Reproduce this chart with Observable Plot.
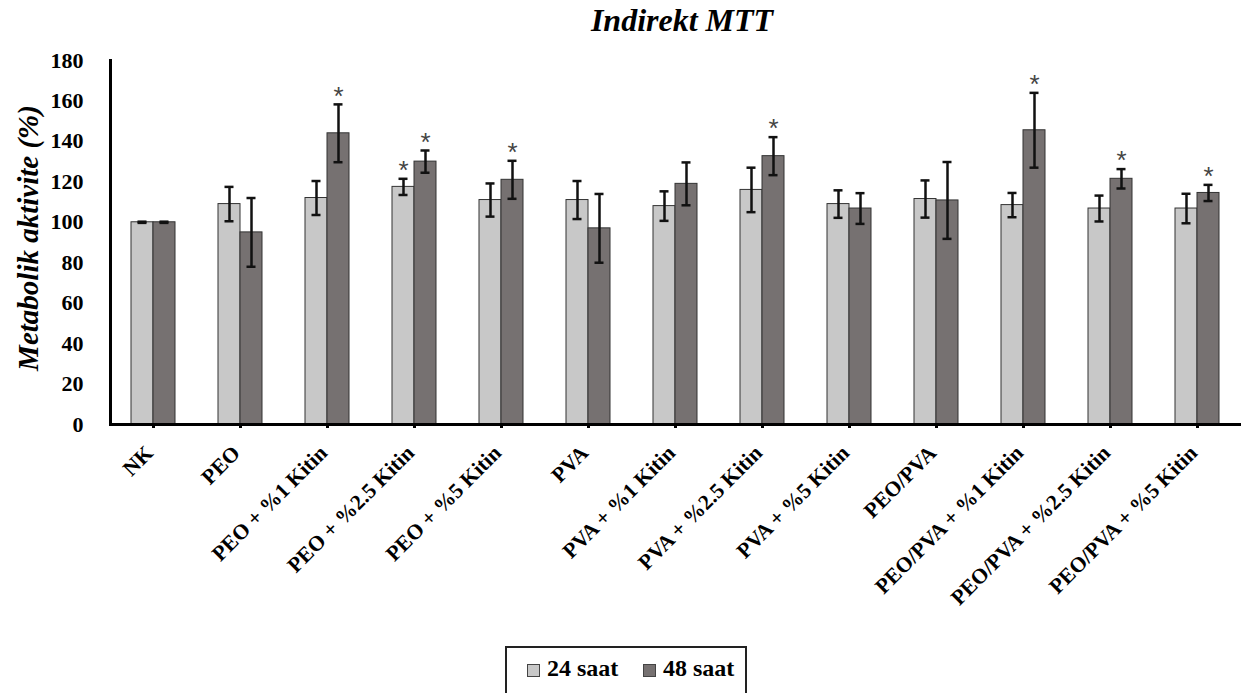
<!DOCTYPE html>
<html>
<head>
<meta charset="utf-8">
<script src="https://cdn.jsdelivr.net/npm/d3@7"></script>
<script src="https://cdn.jsdelivr.net/npm/@observablehq/plot@0.6"></script>
<style>
  html, body { margin: 0; padding: 0; background: #fff; width: 1259px; height: 693px; overflow: hidden; position: relative; }
  .serif { font-family: "Liberation Serif", "Times New Roman", serif; font-weight: bold; color: #000; }
  #title { position: absolute; left: 432px; top: 2px; width: 500px; text-align: center; font-size: 32px; font-style: italic; }
  #ylab { position: absolute; left: 28px; top: 238px; transform: translate(-50%, -50%) rotate(-90deg); white-space: nowrap; font-size: 29px; font-style: italic; }
  #chart { position: absolute; left: 0; top: 45px; }
  #legend { position: absolute; left: 505px; top: 646px; width: 238px; height: 60px; border: 2px solid #222; font-size: 24px; }
  .item { position: absolute; top: 7px; display: flex; align-items: center; }
  .sw { width: 11px; height: 11px; border: 1px solid #444; margin-right: 7px; margin-top: 4px; }
</style>
</head>
<body>
<div id="title" class="serif">Indirekt MTT</div>
<div id="ylab" class="serif">Metabolik aktivite (%)</div>
<div id="chart"></div>
<div id="legend" class="serif">
  <div class="item" style="left:20px"><div class="sw" style="background:#c8c8c8"></div>24 saat</div>
  <div class="item" style="left:136px"><div class="sw" style="background:#767171"></div>48 saat</div>
</div>
<script>
const categories = ["NK","PEO","PEO + %1 Kitin","PEO + %2.5 Kitin","PEO + %5 Kitin","PVA","PVA + %1 Kitin","PVA + %2.5 Kitin","PVA + %5 Kitin","PEO/PVA","PEO/PVA + %1 Kitin","PEO/PVA + %2.5 Kitin","PEO/PVA + %5 Kitin"];
const mean24 = [100, 109, 112, 117.5, 111, 111, 108, 116, 109, 111.5, 108.5, 106.8, 106.8];
const err24  = [0.3, 8.5, 8.4, 4, 8.2, 9.4, 7.3, 11, 6.8, 9.2, 6, 6.4, 7.3];
const mean48 = [100, 95, 144, 130, 121, 97, 119, 132.7, 106.8, 110.8, 145.5, 121.5, 114.5];
const err48  = [0.3, 17, 14.3, 5.5, 9.4, 17, 10.6, 9.4, 7.6, 19, 18.5, 4.8, 4];
const sig24  = [false,false,false,true,false,false,false,false,false,false,false,false,false];
const sig48  = [false,false,true,true,true,false,false,true,false,false,true,true,true];
const yTicks = [0,20,40,60,80,100,120,140,160,180];
const seriesNames = ["24 saat","48 saat"];
const seriesColors = ["#c8c8c8","#767171"];

const rows = [];
categories.forEach((c, i) => {
  rows.push({cat: c, series: seriesNames[0], v: mean24[i], lo: mean24[i]-err24[i], hi: mean24[i]+err24[i], sig: sig24[i]});
  rows.push({cat: c, series: seriesNames[1], v: mean48[i], lo: mean48[i]-err48[i], hi: mean48[i]+err48[i], sig: sig48[i]});
});

const marks = [];
seriesNames.forEach((s, k) => {
  const d = rows.filter(r => r.series === s);
  const dx = k === 0 ? -11 : 11;
  marks.push(Plot.barY(d, {x: "cat", y: "v", dx, fill: seriesColors[k], stroke: "#333", strokeWidth: 1}));
  marks.push(Plot.ruleX(d, {x: "cat", y1: "lo", y2: "hi", dx, stroke: "#111", strokeWidth: 2.5}));
  marks.push(Plot.tickY(d, {x: "cat", y: "hi", dx, insetLeft: 6.5, insetRight: 6.5, stroke: "#111", strokeWidth: 2.5}));
  marks.push(Plot.tickY(d, {x: "cat", y: "lo", dx, insetLeft: 6.5, insetRight: 6.5, stroke: "#111", strokeWidth: 2.5}));
  marks.push(Plot.text(d.filter(r => r.sig), {x: "cat", y: "hi", dx, dy: -8, text: () => "*", fontSize: 26, fontWeight: "normal", fontFamily: "Liberation Sans, sans-serif", fill: "#444"}));
});

const chart = Plot.plot({
  width: 1259,
  height: 595,
  marginLeft: 110,
  marginRight: 18,
  marginTop: 15,
  marginBottom: 216,
  style: {fontFamily: "'Liberation Serif', 'Times New Roman', serif", fontWeight: "bold", fontSize: "22px", color: "#000", background: "transparent"},
  x: {type: "band", domain: categories, paddingInner: 0.747, paddingOuter: 0.3735, label: null},
  y: {domain: [0, 180], label: null},
  marks: [
    ...marks,
    Plot.axisY({ticks: yTicks, tickSize: 0, tickPadding: 27, fontSize: 22, label: null}),
    Plot.axisX({tickSize: 4, text: null, label: null, strokeWidth: 3}),
    Plot.axisX({tickSize: 0, tickRotate: -45, tickPadding: 25, dx: -4, fontSize: 21.5, label: null}),
    Plot.ruleY([0], {stroke: "#000", strokeWidth: 3}),
    Plot.frame({anchor: "left", stroke: "#000", strokeWidth: 3})
  ]
});
document.getElementById("chart").appendChild(chart);
</script>
</body>
</html>
